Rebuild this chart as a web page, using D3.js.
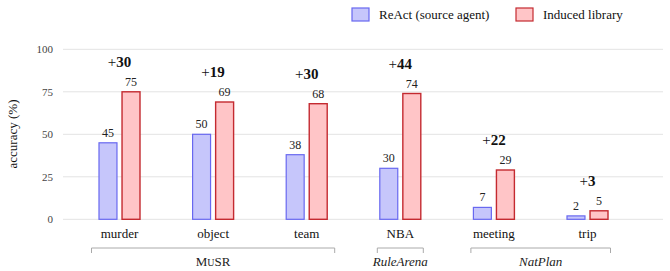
<!DOCTYPE html>
<html>
<head>
<meta charset="utf-8">
<script src="https://cdn.jsdelivr.net/npm/d3@7"></script>
<style>
  @font-face{font-family:'PaperSerif';src:local('Liberation Serif'),local('LiberationSerif'),local('LiberationSerif-Regular');font-weight:normal;font-style:normal;}
  @font-face{font-family:'PaperSerif';src:local('Liberation Serif Bold'),local('LiberationSerif-Bold');font-weight:bold;font-style:normal;}
  @font-face{font-family:'PaperSerif';src:local('Liberation Serif Italic'),local('LiberationSerif-Italic');font-weight:normal;font-style:italic;}
  body{margin:0;background:#fff;}
  svg, svg text{font-family:'Liberation Serif','PaperSerif',serif;}
</style>
</head>
<body>
<div class="chart"></div>
<script>
// data
const categories = ['murder','object','team','NBA','meeting','trip'];
const series = ['ReAct (source agent)','Induced library'];
const reactValues = [45,50,38,30,7,2];
const libraryValues = [75,69,68,74,29,5];
const deltas = [30,19,30,44,22,3];
const yTicks = [0,25,50,75,100];
const groups = [
  {name:'MuSR', from:'murder', to:'team', pad:28},
  {name:'RuleArena', from:'NBA', to:'NBA', pad:23},
  {name:'NatPlan', from:'meeting', to:'trip', pad:23}
];

const width = 670, height = 271;
const colors = {
  fill:['#c6c6fb','#ffc5c7'],
  stroke:['#6868f0','#c42a30']
};

const svg = d3.select('.chart').append('svg')
  .attr('width',width).attr('height',height);

const yScale = d3.scaleLinear().domain([0,100]).range([219.3,49.3]);
const xScale = d3.scaleBand().domain(categories).range([72.7,634.3]);
const subScale = d3.scaleBand().domain(series).range([-20.5,20.5]).paddingInner(0.22);

//grid
svg.append('g').selectAll('line').data(yTicks).join('line')
  .attr('x1',63).attr('x2',663)
  .attr('y1',d=>yScale(d)).attr('y2',d=>yScale(d))
  .attr('stroke','#e3e3e3').attr('stroke-width',1);

//y axis
const yAxis = d3.axisLeft(yScale).tickValues(yTicks).tickSize(0).tickPadding(0);
const yAxisDraw = svg.append('g').attr('transform','translate(53,0)').call(yAxis);
yAxisDraw.attr('font-family',null).attr('font-size',11);
yAxisDraw.select('.domain').remove();
yAxisDraw.selectAll('text').attr('fill','#444');

svg.append('text')
  .attr('transform','translate(17,134) rotate(-90)')
  .attr('text-anchor','middle')
  .attr('font-size',13).attr('fill','#111')
  .text('accuracy (%)');

//bars
const rows = categories.map((c,i)=>({cat:c, vals:[reactValues[i],libraryValues[i]], delta:deltas[i]}));
const groupG = svg.append('g').selectAll('g').data(rows).join('g')
  .attr('transform',d=>`translate(${xScale(d.cat)+xScale.bandwidth()/2},0)`);

groupG.selectAll('rect').data(d=>d.vals.map((v,j)=>({v,j}))).join('rect')
  .attr('x',d=>subScale(series[d.j]))
  .attr('y',d=>yScale(d.v))
  .attr('width',subScale.bandwidth())
  .attr('height',d=>yScale(0)-yScale(d.v))
  .attr('fill',d=>colors.fill[d.j])
  .attr('stroke',d=>colors.stroke[d.j])
  .attr('stroke-width',d=>d.j?1.4:1.2);

groupG.selectAll('.val').data(d=>d.vals.map((v,j)=>({v,j}))).join('text')
  .attr('class','val')
  .attr('x',d=>subScale(series[d.j])+subScale.bandwidth()/2)
  .attr('y',d=>yScale(d.v)-6)
  .attr('text-anchor','middle')
  .attr('font-size',12).attr('fill','#222')
  .text(d=>d.v);

const deltaText = groupG.append('text')
  .attr('x',0)
  .attr('y',d=>yScale(d3.max(d.vals))-25)
  .attr('text-anchor','middle')
  .attr('font-size',15).attr('fill','#111');
deltaText.append('tspan').text('+');
deltaText.append('tspan').attr('font-weight','bold').text(d=>d.delta);

//x labels
const xAxis = d3.axisBottom(xScale).tickSize(0).tickPadding(0);
const xAxisDraw = svg.append('g').attr('transform','translate(0,229)').call(xAxis);
xAxisDraw.attr('font-family',null).attr('font-size',13);
xAxisDraw.select('.domain').remove();
xAxisDraw.selectAll('text').attr('fill','#111');

//group brackets
const center = c=>xScale(c)+xScale.bandwidth()/2;
const gb = svg.append('g').selectAll('g').data(groups).join('g');
gb.append('path')
  .attr('d',d=>{
    const x1=center(d.from)-d.pad, x2=center(d.to)+d.pad;
    return `M${x1},253V248H${x2}V253`;
  })
  .attr('fill','none').attr('stroke','#aaa').attr('stroke-width',1);
const gt = gb.append('text')
  .attr('x',d=>(center(d.from)+center(d.to))/2)
  .attr('y',266)
  .attr('text-anchor','middle')
  .attr('font-size',13).attr('fill','#222')
  .attr('font-style',d=>d.name==='MuSR'?'normal':'italic');
gt.each(function(d){
  const t=d3.select(this);
  if(d.name==='MuSR'){
    t.append('tspan').text('M');
    t.append('tspan').attr('font-size',10).text('U');
    t.append('tspan').text('SR');
  } else t.text(d.name);
});

//legend
const legend = svg.append('g').selectAll('g').data(series).join('g')
  .attr('transform',(d,i)=>`translate(${[352,516][i]},8)`);
legend.append('rect')
  .attr('width',17).attr('height',13)
  .attr('fill',(d,i)=>colors.fill[i])
  .attr('stroke',(d,i)=>colors.stroke[i]).attr('stroke-width',1.2);
legend.append('text')
  .attr('x',27).attr('y',11)
  .attr('font-size',13).attr('fill','#111')
  .text(d=>d);
</script>
</body>
</html>
